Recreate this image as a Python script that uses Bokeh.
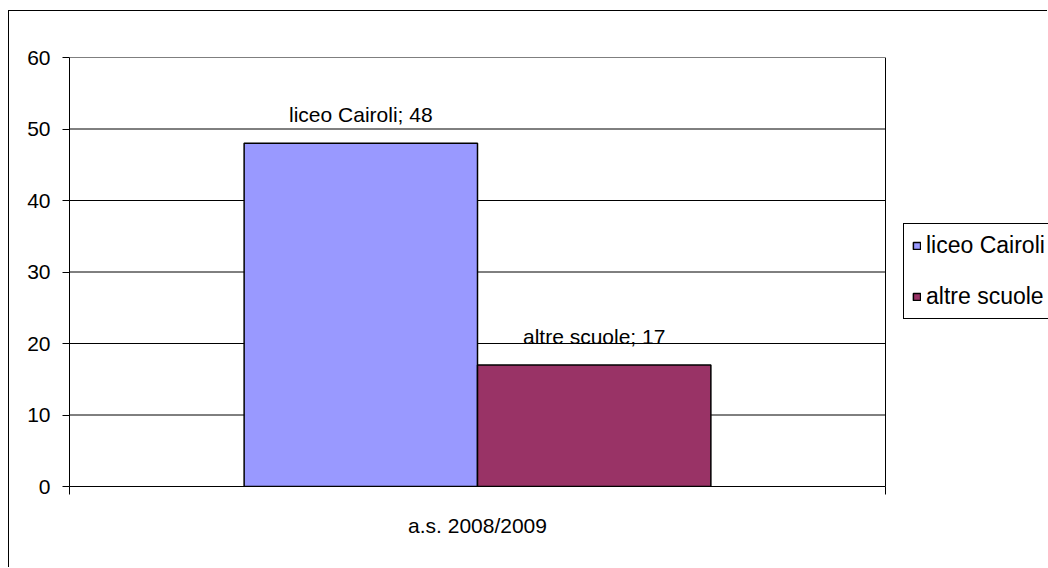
from bokeh.plotting import figure
from bokeh.models import (ColumnDataSource, FixedTicker, Legend, LegendItem,
                          LabelSet, Range1d)
from bokeh.core.properties import value
from bokeh.transform import dodge
from bokeh.embed import file_html
from bokeh.resources import INLINE

categories = ["a.s. 2008/2009"]
series_names = ["liceo Cairoli", "altre scuole"]
series_values = [48, 17]
series_colors = ["#9999FF", "#993366"]
y_ticks = [0, 10, 20, 30, 40, 50, 60]

FONT = "Liberation Sans"
FS = "21px"

ncat = len(categories)
FRAME_W = 979          # pixels from y axis to page edge
PLOT_W = 816           # pixels of the visible plot area
x_end = ncat * FRAME_W / PLOT_W

p = figure(width=1039, height=557, output_backend="svg", toolbar_location=None,
           x_range=Range1d(0, x_end), y_range=Range1d(0, 60),
           min_border_left=60, min_border_top=46, min_border_bottom=82,
           min_border_right=0)
p.styles = {"border-left": "1px solid #000", "border-top": "1px solid #000",
            "margin-top": "10px", "margin-left": "8px"}
p.background_fill_color = "white"
p.border_fill_color = "white"
p.outline_line_color = None

# grid lines and right edge of plot area
p.segment(x0=[0] * len(y_ticks), x1=[ncat] * len(y_ticks), y0=y_ticks, y1=y_ticks,
          line_color="black", line_width=1)
p.segment(x0=[ncat], x1=[ncat], y0=[y_ticks[0]], y1=[y_ticks[-1]],
          line_color="black", line_width=1)

# axes
p.xaxis.bounds = (0, ncat)
p.xaxis.ticker = FixedTicker(ticks=[i + 0.5 for i in range(ncat)],
                             minor_ticks=[float(i) for i in range(ncat + 1)])
p.xaxis.major_label_overrides = {i + 0.5: c for i, c in enumerate(categories)}
p.xaxis.major_tick_out = 0
p.xaxis.major_tick_in = 0
p.xaxis.minor_tick_out = 8
p.xaxis.minor_tick_in = 0
p.xaxis.minor_tick_line_color = "black"
p.xaxis.major_label_standoff = 19
p.yaxis.ticker = FixedTicker(ticks=y_ticks)
p.yaxis.major_tick_out = 7
p.yaxis.major_tick_in = 0
p.yaxis.minor_tick_line_color = None
p.yaxis.major_label_standoff = 12
for ax in (p.xaxis, p.yaxis):
    ax.axis_line_color = "black"
    ax.major_tick_line_color = "black"
    ax.major_label_text_font = FONT
    ax.major_label_text_font_size = FS
    ax.major_label_text_color = "black"
p.xgrid.grid_line_color = None
p.ygrid.grid_line_color = None

n = len(series_names)
bar_w = 0.286
renderers = []
for k, (name, val, col) in enumerate(zip(series_names, series_values, series_colors)):
    off = (k - (n - 1) / 2) * bar_w
    src = ColumnDataSource(dict(x=[i + 0.5 for i in range(ncat)],
                                top=[val],
                                lab=[f"{name}; {val}"]))
    r = p.vbar(x=dodge("x", off), top="top", width=bar_w, bottom=0, source=src,
               fill_color=col, line_color="black", line_width=1.5)
    renderers.append((name, r))
    labels = LabelSet(x=dodge("x", off), y="top", text="lab", source=src,
                      text_align="center", text_baseline="alphabetic",
                      y_offset=21, text_font=value(FONT), text_font_size=value(FS),
                      text_color="black")
    p.add_layout(labels)

legend = Legend(items=[LegendItem(label=nm, renderers=[r]) for nm, r in renderers],
                location=(834, 167), orientation="vertical",
                label_text_font=FONT, label_text_font_size="23px",
                label_text_color="black",
                glyph_width=9, glyph_height=9, label_standoff=5,
                spacing=24, padding=8, margin=0,
                border_line_color="black", border_line_width=1,
                border_line_alpha=1,
                background_fill_alpha=1)
p.add_layout(legend, "center")

open("out.html", "w").write(file_html(p, INLINE))
